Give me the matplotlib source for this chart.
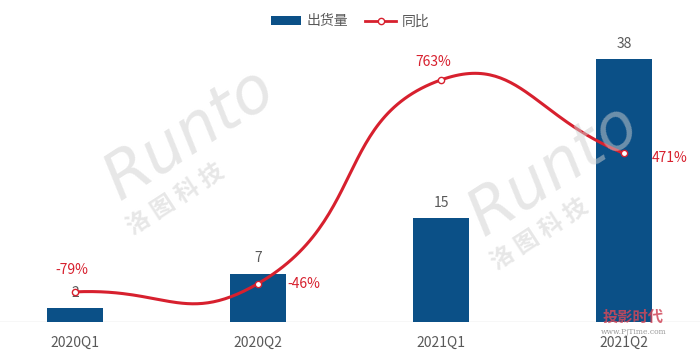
import numpy as np
import matplotlib
matplotlib.use('Agg')
import matplotlib.pyplot as plt
from matplotlib.patches import Patch
from matplotlib.lines import Line2D

plt.rcParams['font.family'] = ['Noto Sans CJK SC', 'DejaVu Sans']

# dane
quarters = ['2020Q1', '2020Q2', '2021Q1', '2021Q2']
shipments = [2, 7, 15, 38]
yoy = [-79, -46, 763, 471]
yoy_labels = ['-79%', '-46%', '763%', '471%']

bar_color = '#0B5087'
line_color = '#D7202E'
gray = '#595959'

fig = plt.figure(figsize=(7, 3.55), dpi=100)
ax = fig.add_axes([0, 33 / 355, 1, 282 / 355])
ax2 = ax.twinx()

x = np.arange(len(quarters))
ax.bar(x, shipments, width=0.31, color=bar_color, zorder=2)
ax.set_xlim(-0.41, 3.415)
ax.set_ylim(0, 40.75)
ax2.set_ylim(-198.6, 921.4)

for i, v in enumerate(shipments):
    ax.text(i, v + 1.2, str(v), ha='center', va='bottom', fontsize=10, color=gray, zorder=5)

ax.set_xticks(x)
ax.set_xticklabels(quarters, fontsize=10, color=gray)
ax.tick_params(axis='x', length=0, pad=10)
ax.set_yticks([])
ax2.set_yticks([])
for a in (ax, ax2):
    for s in ['top', 'left', 'right', 'bottom']:
        a.spines[s].set_visible(False)
ax.axhline(0, color='#D9D9D9', lw=1, zorder=1)

# gladka linia (jak w echarts, smooth=0.5) liczona w pikselach
fig.canvas.draw()
pts = ax2.transData.transform(np.column_stack([x, yoy]))
n = len(pts)
smooth = 0.5
cps = []
for i in range(n):
    prev = pts[max(i - 1, 0)]
    nxt = pts[min(i + 1, n - 1)]
    cur = pts[i]
    v = nxt - prev
    d0 = np.hypot(*(cur - prev))
    d1 = np.hypot(*(cur - nxt))
    s = d0 + d1
    if s > 0:
        d0, d1 = d0 / s, d1 / s
    cps.append((cur - v * d0 * smooth, cur + v * d1 * smooth))

t = np.linspace(0, 1, 60)[:, None]
curve = []
for i in range(n - 1):
    p0, p3 = pts[i], pts[i + 1]
    c1, c2 = cps[i][1], cps[i + 1][0]
    seg = (1 - t) ** 3 * p0 + 3 * (1 - t) ** 2 * t * c1 + 3 * (1 - t) * t ** 2 * c2 + t ** 3 * p3
    curve.append(seg)
curve = np.vstack(curve)
curve = ax2.transData.inverted().transform(curve)
ax2.plot(curve[:, 0], curve[:, 1], color=line_color, lw=2.2, zorder=4)
ax2.plot(x, yoy, 'o', ms=4.5, mfc='white', mec=line_color, mew=1, zorder=5)

# etykiety procentow
offsets = [(-0.02, 88, 'center'), (0.16, 0, 'left'), (-0.04, 72, 'center'), (0.15, -18, 'left')]
for i, (dx, dy, ha) in enumerate(offsets):
    ax2.text(i + dx, yoy[i] + dy, yoy_labels[i], ha=ha, va='center', fontsize=10,
             color=line_color, zorder=6)

# znaki wodne
for (wx, wy) in [(0.27, 0.62), (0.79, 0.52)]:
    fig.text(wx, wy, 'Runto', fontsize=46, fontstyle='italic', color='#CFCFCF', alpha=0.5,
             rotation=33, ha='center', va='center', family='DejaVu Sans')
    fig.text(wx - 0.02, wy - 0.18, '洛 图 科 技', fontsize=17, fontweight='bold', color='#CFCFCF',
             alpha=0.5, rotation=33, ha='center', va='center')
fig.text(0.905, 0.107, '投影时代', fontsize=11, fontweight='bold', color='#D0485A',
         ha='center', va='center', alpha=0.85)
fig.text(0.905, 0.066, 'www.PjTime.com', fontsize=5.5, color='#9A9A9A', ha='center',
         va='center', family='DejaVu Serif')

# legenda
handles = [Patch(facecolor=bar_color, edgecolor='none'),
           Line2D([0], [0], color=line_color, lw=2, marker='o', ms=4.5, mfc='white', mec=line_color)]
fig.legend(handles, ['出货量', '同比'], loc='center', bbox_to_anchor=(0.5, 0.94), ncol=2,
           frameon=False, fontsize=10, labelcolor=gray, handlelength=2.2, handleheight=0.6,
           columnspacing=1.2, handletextpad=0.4)

fig.savefig('out.png', dpi=100)
